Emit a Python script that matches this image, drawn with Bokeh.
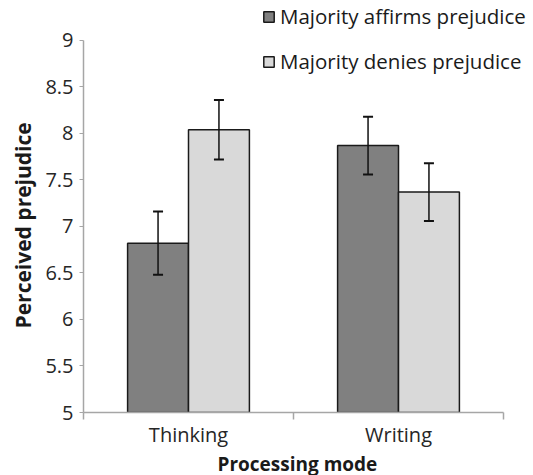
from bokeh.plotting import figure
from bokeh.models import (ColumnDataSource, Range1d, FixedTicker, NumeralTickFormatter,
                          Whisker, TeeHead, Legend, LegendItem, LinearAxis, Title)
from bokeh.embed import file_html
from bokeh.resources import INLINE
import numpy as np

categories = ["Thinking", "Writing"]
affirms = [6.82, 7.87]
affirms_err = [0.34, 0.31]
denies = [8.04, 7.37]
denies_err = [0.32, 0.31]
series_names = ["Majority affirms prejudice", "Majority denies prejudice"]
y_ticks = [5, 5.5, 6, 6.5, 7, 7.5, 8, 8.5, 9]

FONT = "Open Sans"
pos = np.arange(len(categories)) + 0.5
BW = 0.29
OFF = 0.145

src_a = ColumnDataSource(dict(x=pos - OFF, top=affirms,
                              upper=np.array(affirms) + np.array(affirms_err),
                              lower=np.array(affirms) - np.array(affirms_err)))
src_d = ColumnDataSource(dict(x=pos + OFF, top=denies,
                              upper=np.array(denies) + np.array(denies_err),
                              lower=np.array(denies) - np.array(denies_err)))

p = figure(width=533, height=475, output_backend="svg", toolbar_location=None,
           x_range=Range1d(0, 2 * 450 / 420), y_range=Range1d(5, 9.43),
           frame_width=450, frame_height=412,
           min_border_left=83, min_border_top=0, min_border_right=0, min_border_bottom=63,
           x_axis_type=None, y_axis_type=None)
p.outline_line_color = None
p.grid.visible = False

ra = p.vbar(x="x", top="top", bottom=5, width=BW, source=src_a,
            fill_color="#808080", line_color="#1a1a1a", line_width=1.5)
rd = p.vbar(x="x", top="top", bottom=5, width=BW, source=src_d,
            fill_color="#d9d9d9", line_color="#1a1a1a", line_width=1.5)

for s in (src_a, src_d):
    w = Whisker(base="x", upper="upper", lower="lower", source=s, level="overlay",
                line_color="#111111", line_width=1.5,
                upper_head=TeeHead(size=10, line_color="#111111", line_width=2),
                lower_head=TeeHead(size=10, line_color="#111111", line_width=2))
    p.add_layout(w)

# y axis
yax = LinearAxis(ticker=FixedTicker(ticks=y_ticks), bounds=(5, 9),
                 formatter=NumeralTickFormatter(format="0.[0]"))
yax.axis_line_color = "#a6a6a6"
yax.axis_line_width = 1.5
yax.major_tick_line_color = "#a6a6a6"
yax.major_tick_out = 4
yax.major_tick_in = 0
yax.minor_tick_line_color = None
yax.major_label_text_font = FONT
yax.major_label_text_font_size = "20px"
yax.major_label_text_color = "#262626"
yax.major_label_standoff = 6
p.add_layout(yax, "left")

ytitle = Title(text="Perceived prejudice", align="left", offset=84,
               text_font=FONT, text_font_style="bold", text_font_size="21px",
               text_color="#1a1a1a", standoff=11)
p.add_layout(ytitle, "left")

# x axis
xax = LinearAxis(ticker=FixedTicker(ticks=list(pos), minor_ticks=[0, 1, 2]), bounds=(0, 2))
xax.major_label_overrides = {float(v): c for v, c in zip(pos, categories)}
xax.axis_line_color = "#a6a6a6"
xax.axis_line_width = 1.5
xax.major_tick_line_color = None
xax.major_tick_out = 0
xax.major_tick_in = 0
xax.minor_tick_line_color = "#a6a6a6"
xax.minor_tick_line_width = 1.5
xax.minor_tick_out = 7
xax.minor_tick_in = 0
xax.major_label_text_font = FONT
xax.major_label_text_font_size = "20px"
xax.major_label_text_color = "#262626"
xax.major_label_standoff = 1
p.add_layout(xax, "below")

xtitle = Title(text="Processing mode", align="left", offset=134, vertical_align="top",
               text_font=FONT, text_font_style="bold", text_font_size="19px",
               text_color="#1a1a1a", standoff=0)
p.add_layout(xtitle, "below")

legend = Legend(items=[LegendItem(label=series_names[0], renderers=[ra]),
                       LegendItem(label=series_names[1], renderers=[rd])],
                location=(179, 337), orientation="vertical",
                glyph_width=13, glyph_height=13, label_height=28,
                spacing=17, padding=0, margin=0, label_standoff=5,
                border_line_color=None, background_fill_alpha=0,
                label_text_font=FONT, label_text_font_size="20.5px",
                label_text_color="#1a1a1a")
p.add_layout(legend, "center")

open("out.html", "w").write(file_html(p, INLINE))
